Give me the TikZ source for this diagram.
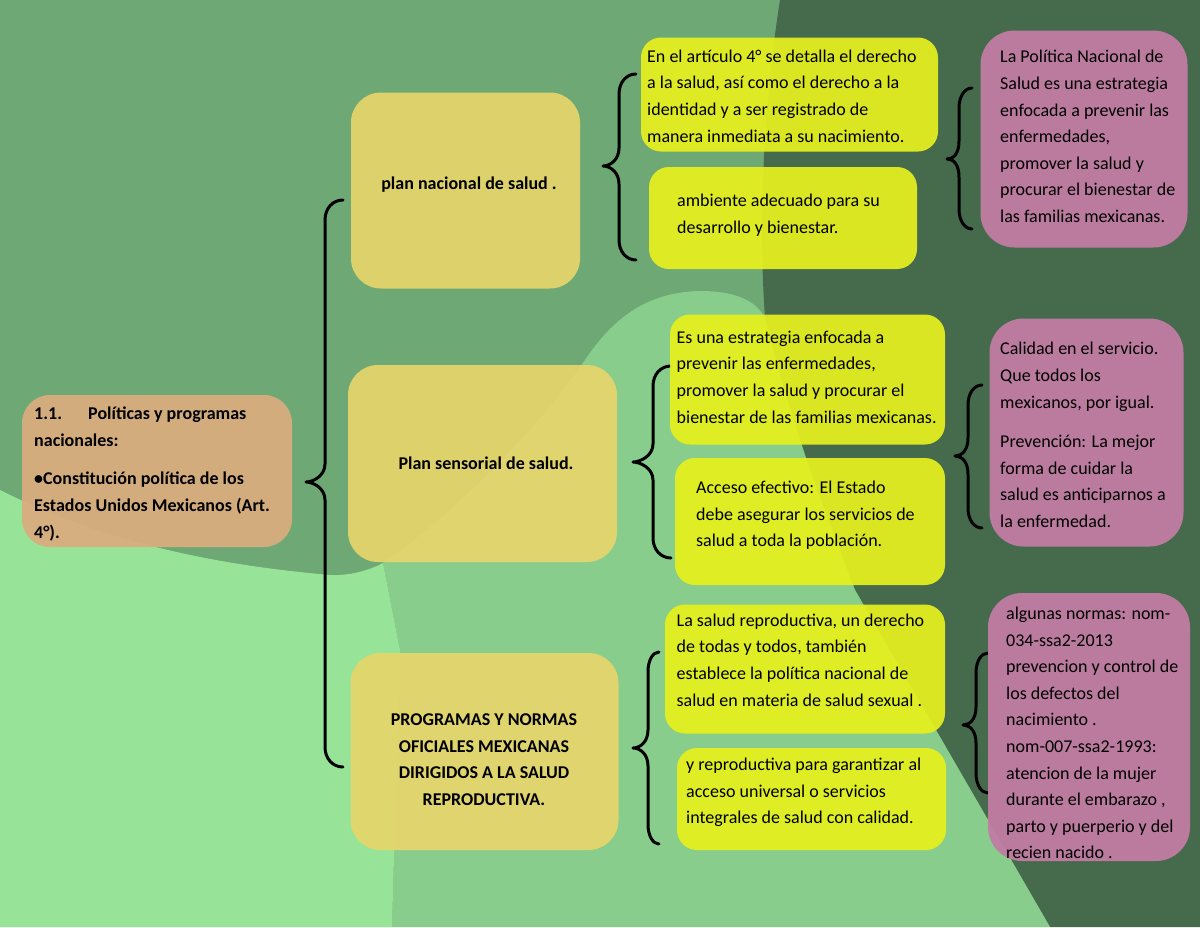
\documentclass[tikz,border=0pt]{standalone}
\usepackage{fontspec}
\setmainfont{Carlito}
\definecolor{bgmid}{HTML}{6EA875}
\definecolor{bgdark}{HTML}{466A4C}
\definecolor{bglight}{HTML}{97E498}
\definecolor{bgml}{HTML}{88CD8B}
\definecolor{tanc}{HTML}{E6D56B}
\definecolor{yelc}{HTML}{E6F01E}
\definecolor{pinkc}{HTML}{C07CA3}
\definecolor{orc}{HTML}{D8AD7E}
\tikzset{
  tanbox/.style={fill=tanc, fill opacity=.93, rounded corners=30pt, inner sep=0pt},
  yelbox/.style={fill=yelc, fill opacity=.93, rounded corners=20pt, inner sep=0pt},
  pinkbox/.style={fill=pinkc, fill opacity=.96, rounded corners=34pt, inner sep=0pt},
  orbox/.style={fill=orc, fill opacity=.96, rounded corners=28pt, inner sep=0pt},
  txt/.style={inner sep=0pt, align=left, anchor=west, text=black, font=\fontsize{18}{26.6}\selectfont},
  ctxt/.style={inner sep=0pt, align=center, anchor=center, text=black, font=\fontsize{18}{26.6}\selectfont\bfseries},
  brc/.style={draw=black, line width=3pt, line cap=round, line join=round}
}
\newcommand\mybrace[6]{%
  \draw[brc] (#1,#4) .. controls ({#2+0.45*(#1-#2)},#4) and (#2,{#4+8}) .. (#2,{#4+20})
    -- (#2,{#5-18}) .. controls (#2,{#5-6}) and ({#3+7},#5) .. (#3,#5)
    .. controls ({#3+7},#5) and (#2,{#5+6}) .. (#2,{#5+18})
    -- (#2,{#6-20}) .. controls (#2,{#6-8}) and ({#2+0.45*(#1-#2)},#6) .. (#1,#6);}
\begin{document}
\begin{tikzpicture}[x=1pt,y=-1pt]
\useasboundingbox (0,0) rectangle (1200,927);
% background
\fill[bgmid] (0,0) rectangle (1200,927);
\fill[bgdark] (780,0) .. controls (764,100) and (758,220) .. (765,318)
  .. controls (790,420) and (820,500) .. (855,590) -- (1050,927) -- (1200,927) -- (1200,0) -- cycle;
\fill[bgml] (383,563) .. controls (460,510) and (545,420) .. (585,360)
  .. controls (615,315) and (650,292) .. (700,291) .. controls (730,291) and (755,298) .. (765,318)
  .. controls (790,420) and (820,500) .. (855,590) -- (1050,927) -- (392,927) -- (400,650) -- cycle;
\fill[bglight] (0,490) .. controls (80,530) and (180,562) .. (330,575)
  .. controls (350,576) and (370,570) .. (383,563) -- (400,650) -- (392,927) -- (0,927) -- cycle;

% braces
\mybrace{343}{325}{306}{200}{482}{767}
\mybrace{636}{619}{603}{74}{166}{260}
\mybrace{972}{959}{947}{88}{159}{229}
\mybrace{671}{653}{633}{366}{462}{558}
\mybrace{982}{968}{955}{385}{456}{528}
\mybrace{659}{648}{633}{652}{748}{844}
\mybrace{988}{976}{963}{653}{725}{793}

% boxes
\node[orbox, minimum width=270, minimum height=152] (or) at (157,471) {};
\node[tanbox, minimum width=229, minimum height=196] (pn) at (465.5,190.5) {};
\node[tanbox, minimum width=269, minimum height=197] (ps) at (482.5,463.5) {};
\node[tanbox, minimum width=268, minimum height=197] (pr) at (484.5,751.5) {};
\node[yelbox, minimum width=297, minimum height=114] (ya) at (789.5,94.5) {};
\node[yelbox, minimum width=268, minimum height=102] (yb) at (783,218) {};
\node[yelbox, minimum width=275, minimum height=130] (yc) at (807.5,379.5) {};
\node[yelbox, minimum width=270, minimum height=127] (yd) at (810,521.5) {};
\node[yelbox, minimum width=280, minimum height=129] (ye) at (805,669) {};
\node[yelbox, minimum width=269, minimum height=102] (yf) at (811.5,799) {};
\node[pinkbox, minimum width=207, minimum height=217] (pa) at (1084,139) {};
\node[pinkbox, minimum width=194, minimum height=228] (pb) at (1086.5,432.5) {};
\node[pinkbox, minimum width=202, minimum height=268] (pc) at (1089,727) {};

% texts
\node[txt, font=\fontsize{18}{26.6}\selectfont\bfseries] (ort) at (34,474)
  {\makebox[54pt][l]{1.1.}Políticas y programas\\ nacionales:\\[12pt]
   •Constitución política de los\\ Estados Unidos Mexicanos (Art.\\ 4°).};
\node[ctxt] (pnt) at (469,185) {plan nacional de salud .};
\node[ctxt] (pst) at (486,463.5) {Plan sensorial de salud.};
\node[ctxt] (prt) at (484,759.5) {PROGRAMAS Y NORMAS\\ OFICIALES MEXICANAS\\ DIRIGIDOS A LA SALUD\\ REPRODUCTIVA.};
\node[txt] (yat) at (647,96) {En el artículo 4° se detalla el derecho\\ a la salud, así como el derecho a la\\ identidad y a ser registrado de\\ manera inmediata a su nacimiento.};
\node[txt] (ybt) at (677,215) {ambiente adecuado para su\\ desarrollo y bienestar.};
\node[txt] (yct) at (676.5,377) {Es una estrategia enfocada a\\ prevenir las enfermedades,\\ promover la salud y procurar el\\ bienestar de las familias mexicanas.};
\node[txt] (ydt) at (696,515.5) {Acceso efectivo: El Estado\\ debe asegurar los servicios de\\ salud a toda la población.};
\node[txt] (yet) at (676.5,660) {La salud reproductiva, un derecho\\ de todas y todos, también\\ establece la política nacional de\\ salud en materia de salud sexual .};
\node[txt] (yft) at (686,792.5) {y reproductiva para garantizar al\\ acceso universal o servicios\\ integrales de salud con calidad.};
\node[txt] (pat) at (1000,136.5) {La Política Nacional de\\ Salud es una estrategia\\ enfocada a prevenir las\\ enfermedades,\\ promover la salud y\\ procurar el bienestar de\\ las familias mexicanas.};
\node[txt] (pbt) at (1000,435) {Calidad en el servicio.\\ Que todos los\\ mexicanos, por igual.\\[13pt] Prevención: La mejor\\ forma de cuidar la\\ salud es anticiparnos a\\ la enfermedad.};
\node[txt] (pct) at (1006,733) {algunas normas: nom-\\ 034-ssa2-2013\\ prevencion y control de\\ los defectos del\\ nacimiento .\\ nom-007-ssa2-1993:\\ atencion de la mujer\\ durante el embarazo ,\\ parto y puerperio y del\\ recien nacido .};
\end{tikzpicture}
\end{document}
